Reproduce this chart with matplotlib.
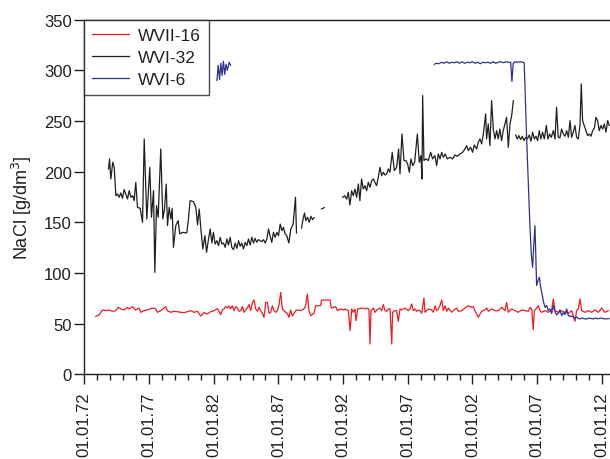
import numpy as np
import matplotlib
matplotlib.use("Agg")
import matplotlib.pyplot as plt

plt.rcParams['font.family'] = ['Liberation Sans', 'DejaVu Sans']

nan = np.nan

tick_years = [1972, 1977, 1982, 1987, 1992, 1997, 2002, 2007, 2012]
tick_labels = ["01.01.72", "01.01.77", "01.01.82", "01.01.87", "01.01.92",
               "01.01.97", "01.01.02", "01.01.07", "01.01.12"]
y_ticks = [0, 50, 100, 150, 200, 250, 300, 350]

# WVII-16 (red)
red_x = [1972.88, 1973.14, 1973.40, 1973.65, 1973.91, 1974.17, 1974.43, 1974.63, 1974.81, 1975.07,
         1975.33, 1975.46, 1975.72, 1975.97, 1976.23, 1976.36, 1976.62, 1976.87, 1977.13, 1977.39,
         1977.52, 1977.65, 1977.90, 1978.16, 1978.29, 1978.42, 1978.68, 1978.94, 1979.19, 1979.45,
         1979.71, 1979.97, 1980.22, 1980.48, 1980.74, 1981.00, 1981.25, 1981.51, 1981.77, 1982.03,
         1982.28, 1982.41, 1982.54, 1982.67, 1982.80, 1982.93, 1983.06, 1983.19, 1983.31, 1983.44,
         1983.57, 1983.70, 1983.83, 1983.96, 1984.09, 1984.22, 1984.34, 1984.60, 1984.73, 1984.86,
         1984.99, 1985.12, 1985.25, 1985.38, 1985.50, 1985.63, 1985.76, 1985.89, 1986.02, 1986.15,
         1986.28, 1986.41, 1986.53, 1986.66, 1986.79, 1986.92, 1987.05, 1987.18, 1987.31, 1987.44,
         1987.56, 1987.69, 1987.82, 1987.95, 1988.08, 1988.21, 1988.34, 1988.47, 1988.72, 1988.98,
         1989.11, 1989.24, 1989.37, 1989.50, 1989.75, 1989.88, 1990.27, 1990.33, 1990.99, 1991.09,
         1991.43, 1991.56, 1991.81, 1992.07,
         1992.15, 1992.41, 1992.54, 1992.67, 1992.79, 1992.92, 1993.00, 1993.13, 1993.44, 1993.70,
         1993.82, 1994.00, 1994.08, 1994.16, 1994.34, 1994.47, 1994.60, 1994.73, 1994.85, 1994.98,
         1995.11, 1995.24, 1995.37, 1995.50, 1995.63, 1995.76, 1995.83, 1996.01, 1996.14, 1996.27,
         1996.40, 1996.53, 1996.79, 1997.04, 1997.17, 1997.30, 1997.43, 1997.56, 1997.69, 1997.82,
         1997.95, 1998.07, 1998.25, 1998.33, 1998.59, 1998.85, 1998.98, 1999.11, 1999.23, 1999.36,
         1999.49, 1999.62, 1999.75, 1999.88, 2000.01, 2000.14, 2000.39, 2000.65, 2000.78, 2000.91,
         2001.17, 2001.42, 2001.68, 2001.94, 2002.07, 2002.20, 2002.33, 2002.45, 2002.71, 2002.97,
         2003.10, 2003.23, 2003.48, 2003.74, 2004.00, 2004.26, 2004.51, 2004.64, 2004.77, 2005.03,
         2005.29, 2005.54, 2005.80, 2006.06, 2006.32, 2006.45, 2006.58, 2006.70, 2006.78, 2006.96,
         2007.09, 2007.22, 2007.35, 2007.61, 2007.86, 2008.12, 2008.25, 2008.38, 2008.64, 2008.89,
         2009.15, 2009.41, 2009.67, 2009.92, 2010.05, 2010.18, 2010.31, 2010.44, 2010.70, 2010.95,
         2011.21, 2011.47, 2011.73, 2011.98, 2012.24, 2012.50]
red_y = [57.2, 58.5, 63.5, 62.8, 63.5, 62.2, 62.8, 66.1, 64.5, 63.5,
         66.1, 64.5, 66.8, 63.5, 65.4, 61.2, 62.8, 63.5, 64.8, 65.4,
         64.5, 61.2, 62.8, 65.4, 66.8, 62.8, 61.2, 62.2, 61.8, 61.2,
         60.9, 61.8, 62.8, 61.2, 62.2, 57.5, 60.9, 59.5, 61.8, 62.8,
         64.8, 62.2, 58.9, 63.5, 64.5, 66.8, 65.4, 67.4, 64.5, 67.7,
         62.8, 66.8, 65.4, 62.2, 62.8, 66.8, 61.2, 65.4, 68.8, 62.8,
         71.0, 73.3, 64.5, 62.2, 66.1, 62.8, 60.2, 56.3, 71.0, 71.0,
         60.2, 61.2, 67.7, 62.8, 61.2, 62.8, 68.8, 80.9, 64.5, 62.8,
         61.2, 60.2, 56.3, 63.5, 57.5, 60.2, 62.8, 63.5, 62.8, 64.5,
         67.7, 79.3, 62.2, 57.9, 60.2, 67.7, 67.7, 73.3, 73.3, 65.4,
         66.8, 62.8, 64.5, 63.5,
         64.5, 62.8, 43.1, 64.5, 61.2, 64.5, 53.0, 64.5, 65.4, 64.5,
         65.4, 64.5, 29.9, 62.8, 65.4, 61.2, 63.5, 64.5, 65.4, 62.8,
         68.8, 62.8, 62.2, 64.5, 64.5, 29.9, 61.2, 62.8, 62.8, 52.3,
         64.5, 63.5, 65.4, 62.8, 64.5, 69.4, 62.8, 64.5, 62.2, 63.5,
         62.8, 60.2, 75.3, 61.2, 64.5, 63.5, 61.2, 67.7, 62.8, 64.5,
         67.7, 73.3, 62.8, 67.7, 62.2, 65.4, 61.2, 64.5, 65.4, 62.2,
         62.8, 65.4, 67.7, 66.1, 66.8, 62.2, 59.5, 56.3, 62.2, 63.5,
         65.4, 62.2, 64.5, 62.8, 62.8, 66.1, 62.8, 71.0, 61.2, 64.5,
         62.8, 61.2, 63.5, 62.8, 62.2, 66.1, 64.5, 44.1, 62.8, 65.4,
         67.7, 62.8, 61.2, 62.8, 61.2, 63.5, 74.4, 62.8, 61.2, 62.8,
         61.2, 60.2, 62.8, 52.3, 62.8, 64.5, 74.4, 62.8, 61.2, 62.8,
         61.2, 63.5, 61.2, 65.4, 61.2, 62.8]

# WVI-32 (black)
black_x = [1973.87, 1973.95, 1974.05, 1974.20, 1974.31, 1974.44, 1974.57, 1974.69, 1974.82, 1974.95,
           1975.08, 1975.21, 1975.34, 1975.47, 1975.60, 1975.73, 1975.85, 1975.98, 1976.11, 1976.32,
           1976.50, 1976.63, 1976.83, 1977.06, 1977.19, 1977.35, 1977.45, 1977.58, 1977.71, 1977.91,
           1978.07, 1978.20, 1978.33, 1978.43, 1978.56, 1978.69, 1978.79, 1978.89, 1979.07, 1979.25,
           1979.38, 1979.59, 1979.92, 1980.05, 1980.18, 1980.44, 1980.62, 1980.75, 1980.88, 1981.01,
           1981.16, 1981.32, 1981.45, 1981.60, 1981.73, 1981.86, 1981.98, 1982.11, 1982.24, 1982.37,
           1982.50, 1982.63, 1982.76, 1982.89, 1983.02, 1983.14, 1983.27, 1983.40, 1983.53, 1983.66,
           1983.79, 1983.92, 1984.05, 1984.17, 1984.30, 1984.43, 1984.56, 1984.69, 1984.82, 1984.95,
           1985.08, 1985.20, 1985.33, 1985.46, 1985.59, 1985.72, 1985.85, 1985.98, 1986.11, 1986.24,
           1986.36, 1986.49, 1986.62, 1986.75, 1986.88, 1987.01, 1987.14, 1987.27, 1987.39, 1987.52,
           1987.65, 1987.81, 1987.96, 1988.14, 1988.32, 1988.40, 1988.60,
           1988.79, 1988.91, 1989.02, 1989.12, 1989.25, 1989.38, 1989.51, 1989.64, 1989.76, 1990.00,
           1990.33, 1990.54, 1991.00,
           1991.97, 1992.12, 1992.28, 1992.40, 1992.53, 1992.66, 1992.79, 1992.92, 1993.05, 1993.18,
           1993.30, 1993.43, 1993.56, 1993.69, 1993.82, 1993.95, 1994.08, 1994.21, 1994.34, 1994.46,
           1994.59, 1994.72, 1994.85, 1994.98, 1995.11, 1995.24, 1995.37, 1995.50, 1995.62, 1995.80,
           1995.96, 1996.14, 1996.29, 1996.40, 1996.55, 1996.71, 1996.86, 1996.99, 1997.12, 1997.25,
           1997.38, 1997.53, 1997.74, 1997.89, 1998.02, 1998.10, 1998.15, 1998.25, 1998.41, 1998.59,
           1998.77, 1998.92, 1999.10, 1999.23, 1999.36, 1999.49, 1999.62, 1999.75, 1999.90, 2000.05,
           2000.26, 2000.47, 2000.65, 2000.83, 2001.03, 2001.24, 2001.42, 2001.55, 2001.68, 2001.86,
           2002.01, 2002.14, 2002.32, 2002.45, 2002.58, 2002.71, 2002.84, 2003.02, 2003.09, 2003.22,
           2003.35, 2003.48, 2003.61, 2003.74, 2003.87, 2003.99, 2004.12, 2004.25, 2004.38, 2004.51,
           2004.64, 2004.77, 2004.90, 2005.03, 2005.16, 2005.25,
           2005.34, 2005.46, 2005.59, 2005.72, 2005.85, 2005.98, 2006.11, 2006.24, 2006.39, 2006.52,
           2006.65, 2006.78, 2006.91, 2007.04, 2007.16, 2007.29, 2007.42, 2007.55, 2007.71, 2007.83,
           2007.96, 2008.09, 2008.25, 2008.38, 2008.50, 2008.63, 2008.76, 2008.89, 2009.02, 2009.15,
           2009.28, 2009.41, 2009.54, 2009.66, 2009.79, 2009.92, 2010.05, 2010.18, 2010.31, 2010.41,
           2010.51, 2010.64, 2010.77, 2010.90, 2011.03, 2011.16, 2011.29, 2011.42, 2011.54, 2011.67,
           2011.80, 2011.93, 2012.06, 2012.19, 2012.32, 2012.45, 2012.57]
black_y = [202.7, 212.6, 192.8, 209.3, 204.3, 176.3, 178.0, 174.7, 179.0, 173.7,
           182.3, 178.0, 173.0, 181.3, 174.7, 176.3, 171.4, 189.5, 164.8, 163.8,
           150.0, 232.3, 153.3, 204.3, 155.0, 181.3, 100.6, 166.4, 155.0, 222.4,
           153.3, 163.2, 187.8, 146.8, 164.8, 153.3, 163.8, 125.3, 146.8, 151.7,
           138.5, 140.1, 139.5, 153.3, 171.4, 170.4, 164.8, 147.4, 163.2, 143.4,
           123.7, 136.8, 120.4, 133.6, 143.4, 129.6, 140.1, 128.6, 131.9, 127.0,
           135.2, 128.6, 129.6, 125.3, 133.6, 127.6, 135.2, 125.3, 123.0, 129.6,
           124.3, 131.9, 126.3, 129.6, 123.7, 130.3, 127.0, 133.6, 127.6, 135.2,
           129.6, 134.2, 130.3, 132.9, 131.9, 130.9, 132.9, 129.6, 133.6, 143.4,
           136.2, 130.3, 140.1, 135.2, 140.1, 136.8, 148.3, 141.8, 145.1, 138.5,
           136.8, 129.6, 143.4, 148.3, 174.7, 139.5, nan,
           144.4, 153.3, 159.2, 151.7, 155.0, 150.0, 156.0, 152.7, 154.6, nan,
           163.2, 164.5, nan,
           174.7, 176.3, 173.0, 179.6, 167.1, 181.2, 176.3, 182.9, 174.7, 187.9,
           171.4, 192.8, 182.9, 186.2, 181.2, 189.5, 184.5, 191.1, 192.8, 189.5,
           186.2, 194.4, 204.3, 196.1, 199.4, 196.7, 197.8, 202.7, 199.4, 219.1,
           201.1, 204.3, 222.4, 197.8, 237.2, 211.0, 211.0, 207.6, 199.4, 212.6,
           206.0, 209.3, 237.2, 209.3, 215.9, 192.8, 275.1, 211.0, 212.6, 211.0,
           219.1, 212.6, 215.9, 206.0, 217.5, 212.6, 219.1, 214.2, 217.5, 212.6,
           214.2, 212.6, 216.5, 215.2, 217.5, 219.1, 222.4, 225.7, 220.8, 224.1,
           219.1, 226.4, 222.4, 229.0, 232.3, 227.4, 237.2, 257.0, 232.3, 247.1,
           225.7, 270.1, 242.1, 232.3, 240.5, 232.3, 242.1, 230.6, 240.5, 247.1,
           253.7, 224.1, 247.1, 255.4, 270.1, nan,
           236.2, 232.3, 235.6, 231.6, 235.0, 230.6, 233.9, 232.3, 236.2, 230.0,
           239.0, 232.3, 235.0, 230.6, 240.5, 232.3, 239.0, 232.3, 245.6, 232.3,
           237.2, 233.9, 240.5, 232.3, 263.5, 233.9, 233.3, 242.1, 237.2, 235.0,
           240.5, 233.9, 250.4, 233.9, 239.0, 245.6, 233.9, 232.3, 245.6, 286.6,
           250.4, 245.6, 240.5, 235.6, 237.2, 235.0, 240.5, 242.8, 253.7, 250.4,
           240.5, 245.6, 242.1, 247.1, 239.0, 250.4, 245.6]

# WVI-6 (blue)
blue_x = [1982.25, 1982.35, 1982.45, 1982.55, 1982.65, 1982.75, 1982.85, 1982.95, 1983.05, 1983.20,
          1983.30, 1990.0,
          1999.05, 1999.20, 1999.40, 1999.60, 1999.80, 2000.00, 2000.20, 2000.40, 2000.60, 2000.80,
          2001.00, 2001.20, 2001.40, 2001.60, 2001.80, 2002.00, 2002.20, 2002.40, 2002.60, 2002.80,
          2003.00, 2003.20, 2003.40, 2003.60, 2003.80, 2004.00, 2004.20, 2004.40, 2004.60, 2004.80,
          2004.95, 2005.05, 2005.15, 2005.30, 2005.50, 2005.70, 2005.90, 2006.00, 2006.19, 2006.44,
          2006.55, 2006.65, 2006.75, 2006.83, 2006.96, 2007.05, 2007.17, 2007.27, 2007.35, 2007.50,
          2007.62, 2007.73, 2007.85, 2007.99, 2008.12, 2008.25, 2008.38, 2008.50, 2008.63, 2008.76,
          2008.90, 2009.02, 2009.15, 2009.28, 2009.41, 2009.54, 2009.67, 2009.80, 2009.93, 2010.06,
          2010.19, 2010.32, 2010.45, 2010.60, 2010.80, 2011.00, 2011.20, 2011.34, 2011.50, 2011.70,
          2011.90, 2012.10, 2012.37, 2012.55]
blue_y = [290.0, 305.0, 291.0, 307.0, 295.0, 309.0, 296.0, 306.0, 300.0, 308.0,
          305.0, nan,
          306.0, 307.0, 306.5, 308.0, 307.0, 308.5, 307.0, 308.0, 307.5, 308.5,
          307.0, 308.5, 307.0, 308.0, 307.5, 308.5, 307.0, 308.0, 306.5, 308.0,
          307.5, 308.0, 307.0, 308.5, 307.0, 308.0, 308.5, 307.5, 308.5, 308.0,
          308.0, 289.0, 307.0, 308.5, 308.0, 308.5, 308.0, 307.5, 232.0, 146.7,
          118.0, 105.6, 130.0, 146.7, 87.6, 92.0, 95.8, 86.0, 81.0, 71.0,
          66.0, 68.0, 63.0, 64.5, 60.0, 68.0, 62.0, 58.7, 60.0, 63.6,
          58.0, 61.0, 59.0, 64.5, 58.0, 57.0, 57.5, 56.4, 55.5, 56.5,
          55.0, 54.7, 55.5, 55.0, 54.5, 55.5, 55.0, 54.7, 55.5, 54.8,
          55.5, 55.0, 54.7, 55.0]

series_names = ["WVII-16", "WVI-32", "WVI-6"]
colors = ["#ED1C24", "#231F20", "#2E3192"]

fig = plt.figure(figsize=(6.1, 4.6), dpi=100)
ax = fig.add_axes([0.1382, 0.1841, 0.8618, 0.7709])

ax.plot(red_x, red_y, color=colors[0], lw=0.9, label=series_names[0])
ax.plot(black_x, black_y, color=colors[1], lw=0.9, label=series_names[1])
ax.plot(blue_x, blue_y, color=colors[2], lw=0.9, label=series_names[2])

ax.set_xlim(1972, 2012.63)
ax.set_ylim(0, 350)

ax.set_xticks(tick_years)
ax.set_xticklabels(tick_labels, rotation=90, fontsize=12, color="#231F20")
ax.set_xticks(np.arange(1972, 2013, 1), minor=True)
ax.set_yticks(y_ticks)
ax.set_yticklabels([str(v) for v in y_ticks], fontsize=12, color="#231F20")

ax.tick_params(axis='x', which='major', direction='out', length=7.5, width=1.0,
               pad=5, color="#231F20")
ax.tick_params(axis='x', which='minor', direction='out', length=4.5, width=1.0,
               color="#231F20")
ax.tick_params(axis='y', which='major', direction='out', length=7.5, width=1.0,
               pad=1.5, color="#231F20")

for s in ['left', 'bottom', 'top']:
    ax.spines[s].set_color("#231F20")
    ax.spines[s].set_linewidth(1.0)
ax.spines['right'].set_visible(False)

fig.text(22 / 610, 1 - 208 / 460, "NaCl [g/dm$^3$]", rotation=90, ha='center',
         va='center', fontsize=13, color="#231F20")

leg = ax.legend(loc='upper left', bbox_to_anchor=(0, 1), borderaxespad=0,
                fontsize=12.5, fancybox=False, frameon=True, handlelength=2.1,
                handletextpad=0.55, labelspacing=0.4, borderpad=0.45)
leg.get_frame().set_edgecolor("#231F20")
leg.get_frame().set_linewidth(1.0)
for t in leg.get_texts():
    t.set_color("#231F20")

fig.savefig("out.png", dpi=100)
